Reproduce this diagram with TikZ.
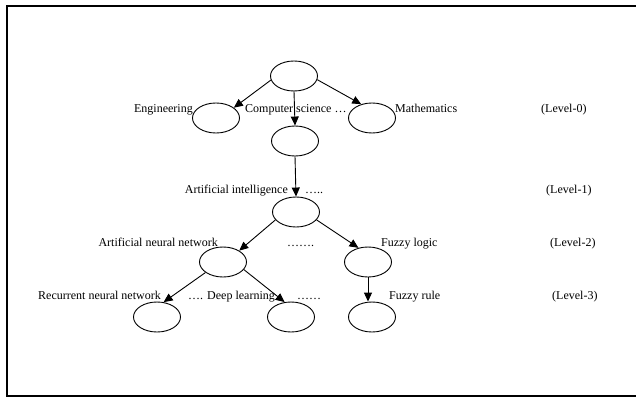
\documentclass[tikz,border=0pt]{standalone}
\usepackage{fontspec}
\setmainfont{Liberation Serif}
\usetikzlibrary{shapes.geometric,arrows.meta}
\begin{document}
\begin{tikzpicture}[x=1pt,y=-1pt,
  el/.style={draw,ellipse,line width=0.9pt,minimum width=47pt,minimum height=30pt,inner sep=0pt},
  arr/.style={line width=0.9pt,-{Triangle[length=9pt,width=8pt]}},
  lab/.style={inner sep=0pt,font=\fontsize{12}{14}\selectfont},
  labl/.style={lab,anchor=base west},
  labr/.style={lab,anchor=base east}]
\useasboundingbox (0,0) rectangle (636,398);
\draw[line width=1.8pt] (637,6) -- (7,6) -- (7,396) -- (637,396);
% ellipses
\node[el] (top) at (294,76) {};
\node[el] (eng) at (216,118) {};
\node[el] (cs) at (295,141) {};
\node[el] (math) at (372,118) {};
\node[el] (ai) at (296,212) {};
\node[el] (ann) at (223,262) {};
\node[el] (fl) at (368,262) {};
\node[el] (rnn) at (157,317) {};
\node[el] (dl) at (291,317) {};
\node[el] (fr) at (372,317) {};
% arrows
\draw[arr] (top.190) -- (eng.30);
\draw[arr] (top.351) -- (math.128);
\draw[arr] (top.south) -- (cs.north);
\draw[arr] (cs.south) -- (ai.north);
\draw[arr] (ai.201) -- (ann.35);
\draw[arr] (ai.339) -- (fl.124);
\draw[arr] (ann.211) -- (rnn.66);
\draw[arr] (ann.340) -- (dl.113);
\draw[arr] (fl.south) -- (fl.south |- fr.north);
% labels
\node[labr] (t-eng) at (193,113) {Engineering};
\node[labl] (t-cs) at (245,113) {Computer science …};
\node[labl] (t-math) at (395,113) {Mathematics};
\node[labl] (t-l0) at (541,113) {(Level-0)};
\node[labr] (t-ai) at (288,193) {Artificial intelligence};
\node[labl] (t-aid) at (305,193) {…..};
\node[labl] (t-l1) at (546,193) {(Level-1)};
\node[labr] (t-ann) at (218,246) {Artificial neural network};
\node[labl] (t-annd) at (287,246) {…….};
\node[labl] (t-fl) at (381,246) {Fuzzy logic};
\node[labl] (t-l2) at (550,246) {(Level-2)};
\node[labr] (t-rnn) at (161,299) {Recurrent neural network};
\node[labl] (t-dl) at (188,299) {…. Deep learning};
\node[labl] (t-dld) at (297,299) {……};
\node[labl] (t-fr) at (389,299) {Fuzzy rule};
\node[labl] (t-l3) at (552,299) {(Level-3)};
\end{tikzpicture}
\end{document}
